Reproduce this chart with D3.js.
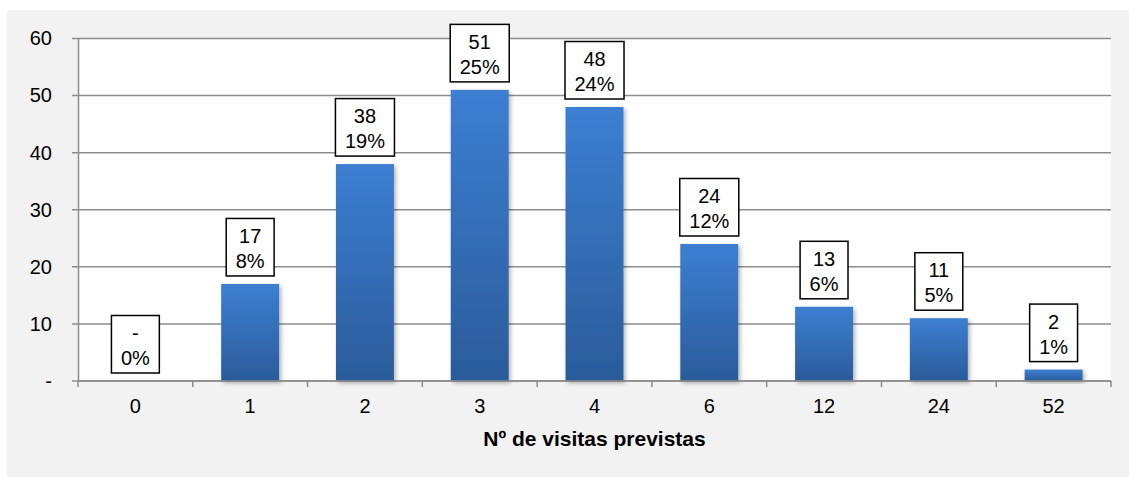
<!DOCTYPE html>
<html lang="es">
<head>
<meta charset="UTF-8">
<title>Nº de visitas previstas</title>
<script src="https://d3js.org/d3.v7.min.js"></script>
<style>
    body { margin: 0; background: #fff; }
    text { font-family: "Liberation Sans", Arial, sans-serif; fill: #000; }
</style>
</head>
<body>
<div id="main"></div>
<script>
    // datos
    const categorias = ["0", "1", "2", "3", "4", "6", "12", "24", "52"]
    const visitas = [0, 17, 38, 51, 48, 24, 13, 11, 2]
    const porcentajes = ["0%", "8%", "19%", "25%", "24%", "12%", "6%", "5%", "1%"]
    const yTicks = [0, 10, 20, 30, 40, 50, 60]

    let W = 1129, H = 477
    let margin = {top: 38.5, right: 18, bottom: 96, left: 78}

    let svg = d3.select("#main")
        .append("svg")
        .attr("width", W)
        .attr("height", H)

    let defs = svg.append("defs")
    let grad = defs.append("linearGradient")
        .attr("id", "barGrad")
        .attr("x1", 0).attr("y1", 0).attr("x2", 0).attr("y2", 1)
    grad.append("stop").attr("offset", "0%").attr("stop-color", "#3c7fd2")
    grad.append("stop").attr("offset", "100%").attr("stop-color", "#2b5b9a")

    let shadow = defs.append("filter").attr("id", "shadow")
        .attr("x", "-20%").attr("y", "-10%").attr("width", "150%").attr("height", "130%")
    shadow.append("feDropShadow")
        .attr("dx", 2).attr("dy", 2).attr("stdDeviation", 2)
        .attr("flood-color", "#000").attr("flood-opacity", 0.3)

    // fondo
    svg.append("rect")
        .attr("x", 7).attr("y", 10)
        .attr("width", W - 7).attr("height", H - 10)
        .attr("fill", "#f2f2f2")

    let x0 = margin.left, x1 = W - margin.right
    let yBottom = 381

    svg.append("rect")
        .attr("x", x0).attr("y", margin.top)
        .attr("width", x1 - x0).attr("height", yBottom - margin.top)
        .attr("fill", "#fff")

    let XScale = d3.scaleBand()
        .domain(categorias)
        .range([x0, x1])
        .paddingInner(0.495)
        .paddingOuter(0.2475)

    let YScale = d3.scaleLinear()
        .domain([0, 60])
        .range([yBottom, margin.top])

    // líneas de división
    svg.append("g").selectAll("line")
        .data(yTicks)
        .enter()
        .append("line")
        .attr("x1", x0 - 6).attr("x2", x1)
        .attr("y1", d => YScale(d)).attr("y2", d => YScale(d))
        .attr("stroke", "#8c8c8c")
        .attr("stroke-width", 1.5)

    // eje y
    let y_axis = d3.axisLeft(YScale)
        .tickValues(yTicks)
        .tickFormat(d => d === 0 ? "-" : d)
        .tickSize(0)
        .tickPadding(26)
    let gy = svg.append("g").attr("transform", `translate(${x0},0)`).call(y_axis)
    gy.select(".domain").attr("stroke", "#8c8c8c").attr("stroke-width", 1.5)
    gy.selectAll("text").style("font-size", "20px").attr("font-family", null)

    // barras
    svg.append("g").selectAll("rect")
        .data(visitas)
        .enter()
        .append("rect")
        .attr("x", (d, i) => XScale(categorias[i]))
        .attr("y", d => YScale(d))
        .attr("width", XScale.bandwidth())
        .attr("height", d => yBottom - YScale(d))
        .attr("fill", "url(#barGrad)")
        .attr("filter", "url(#shadow)")

    // eje x
    let gx = svg.append("g").attr("transform", `translate(0,${yBottom})`)
    gx.append("line")
        .attr("x1", x0).attr("x2", x1)
        .attr("stroke", "#8c8c8c").attr("stroke-width", 1.5)
    let bounds = categorias.map(c => XScale(c) - XScale.step() * XScale.paddingInner() / 2)
    bounds.push(x1)
    gx.selectAll("line.tick")
        .data(bounds)
        .enter()
        .append("line")
        .attr("class", "tick")
        .attr("x1", d => d).attr("x2", d => d)
        .attr("y1", 0).attr("y2", 6)
        .attr("stroke", "#8c8c8c").attr("stroke-width", 1.5)
    gx.selectAll("text")
        .data(categorias)
        .enter()
        .append("text")
        .attr("x", d => XScale(d) + XScale.bandwidth() / 2)
        .attr("y", 32)
        .attr("text-anchor", "middle")
        .style("font-size", "20px")
        .text(d => d)

    svg.append("text")
        .attr("x", (x0 + x1) / 2)
        .attr("y", 446)
        .attr("text-anchor", "middle")
        .style("font-size", "21px")
        .style("font-weight", "bold")
        .text("Nº de visitas previstas")

    // etiquetas
    let labels = svg.append("g").selectAll("g")
        .data(visitas)
        .enter()
        .append("g")
        .attr("transform", (d, i) => `translate(${XScale(categorias[i]) + XScale.bandwidth() / 2},${YScale(d) - 8})`)

    labels.each(function (d, i) {
        let g = d3.select(this)
        let box = g.append("rect")
            .attr("fill", "#fff")
            .attr("stroke", "#000")
            .attr("stroke-width", 1.5)
        let t1 = g.append("text")
            .attr("text-anchor", "middle")
            .attr("y", -33)
            .style("font-size", "20px")
            .text(d === 0 ? "-" : d)
        let t2 = g.append("text")
            .attr("text-anchor", "middle")
            .attr("y", -8)
            .style("font-size", "20px")
            .text(porcentajes[i])
        let w = Math.max(t1.node().getComputedTextLength(), t2.node().getComputedTextLength()) + 19
        box.attr("x", -w / 2).attr("y", -57.5).attr("width", w).attr("height", 57.5)
    })
</script>
</body>
</html>
